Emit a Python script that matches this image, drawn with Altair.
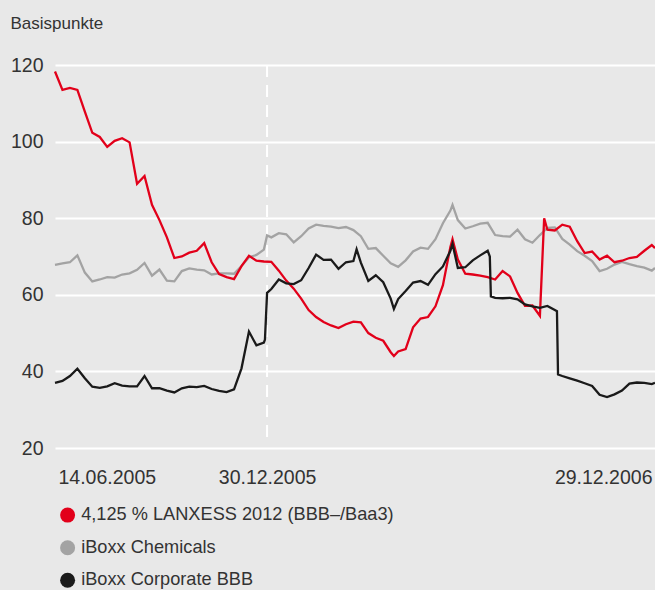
import altair as alt
import pandas as pd

# ---------------- data ----------------
series_names = ["4,125 % LANXESS 2012 (BBB–/Baa3)", "iBoxx Chemicals", "iBoxx Corporate BBB"]
series_colors = ["#e2001a", "#a3a3a3", "#1a1a1a"]

week_dates = [d.strftime("%Y-%m-%d") for d in pd.date_range("2005-06-14", periods=81, freq="7D")] + ["2006-12-29"]

lanxess = [118.3, 113.5, 114.0, 113.5, 107.8, 102.3, 101.2, 98.6, 100.2, 100.9,
           99.8, 89.0, 91.0, 83.5, 79.5, 75.0, 69.6, 70.0, 71.0, 71.5,
           73.5, 68.5, 65.4, 64.6, 64.1, 67.5, 70.2, 68.9, 68.7, 68.6,
           66.3, 63.7, 61.6, 59.0, 56.0, 54.2, 52.9, 52.0, 51.3, 52.3,
           53.0, 52.8, 50.0, 48.8, 48.0, 45.0, 45.2, 45.8, 51.5, 53.8,
           54.2, 57.0, 62.5, 72.5, 69.2, 65.5, 65.3, 65.0, 64.6, 64.0,
           66.2, 64.8, 60.5, 57.1, 57.2, 54.5, 77.0, 76.8, 78.3, 77.8,
           74.0, 70.9, 71.3, 69.2, 70.2, 68.5, 68.9, 69.6, 69.9, 71.5,
           73.0, 72.2]
lanxess_extra_dates = ["2006-04-28", "2006-06-22", "2006-09-16"]
lanxess_extra_vals = [44.0, 74.5, 80.0]

chemicals = [67.8, 68.2, 68.5, 70.3, 65.8, 63.5, 64.0, 64.6, 64.5, 65.3,
             65.6, 66.5, 68.3, 65.0, 66.6, 63.7, 63.5, 66.2, 66.9, 66.6,
             66.4, 65.3, 65.6, 65.6, 65.5, 67.5, 69.8, 70.4, 71.8, 75.0,
             76.1, 75.8, 73.7, 75.3, 77.3, 78.3, 78.0, 77.8, 77.4, 77.7,
             76.9, 75.3, 72.0, 72.2, 70.2, 68.2, 67.3, 69.0, 71.3, 72.3,
             72.0, 74.5, 78.7, 82.0, 79.5, 77.3, 77.9, 78.6, 78.8, 75.6,
             75.3, 75.2, 77.0, 74.5, 73.6, 75.6, 77.5, 77.6, 74.6, 73.1,
             71.4, 70.2, 68.8, 66.2, 66.8, 67.9, 68.6, 68.0, 67.5, 67.1,
             66.3, 67.0]
chemicals_extra_dates = ["2005-12-30", "2006-06-22"]
chemicals_extra_vals = [75.5, 83.5]

corporate = [37.0, 37.5, 38.8, 40.7, 38.2, 36.0, 35.7, 36.1, 36.9, 36.3,
             36.1, 36.1, 38.8, 35.6, 35.6, 35.0, 34.5, 35.6, 36.0, 35.9,
             36.2, 35.4, 34.9, 34.6, 35.3, 40.8, 50.4, 46.8, 47.5, 61.5,
             64.0, 63.0, 62.8, 63.8, 67.0, 70.5, 69.1, 69.2, 66.8, 68.5,
             68.8, 68.4, 63.6, 65.1, 63.3, 59.0, 58.9, 61.0, 63.2, 63.6,
             62.6, 65.4, 67.4, 71.5, 67.0, 67.2, 69.0, 70.3, 71.5, 59.2,
             59.1, 59.2, 58.8, 57.5, 57.0, 56.6, 57.1, 56.0, 38.8, 38.2,
             37.6, 36.9, 36.2, 33.9, 33.3, 34.0, 35.0, 36.8, 37.1, 37.0,
             36.7, 37.0]
corporate_extra_dates = ["2005-12-28", "2005-12-30", "2006-03-24", "2006-04-28",
                         "2006-06-22", "2006-07-27", "2006-07-28", "2006-09-28", "2006-09-29"]
corporate_extra_vals = [48.3, 60.5, 71.9, 56.3, 73.3, 70.0, 59.6, 55.7, 39.2]

marker_date = "2005-12-30"
marker_span = [120, 22]
x_tick_dates = ["2005-06-14", "2005-12-30", "2006-12-29"]
y_ticks = [20, 40, 60, 80, 100, 120]

# ---------------- table ----------------
rows = []
for name, vals, edates, evals in [
    (series_names[0], lanxess, lanxess_extra_dates, lanxess_extra_vals),
    (series_names[1], chemicals, chemicals_extra_dates, chemicals_extra_vals),
    (series_names[2], corporate, corporate_extra_dates, corporate_extra_vals),
]:
    for d, v in zip(week_dates + edates, vals + evals):
        rows.append({"date": d, "value": v, "series": name})
df = pd.DataFrame(rows).sort_values(["series", "date"])

marker_df = pd.DataFrame({"date": [marker_date], "value": [marker_span[0]], "bottom": [marker_span[1]]})
legend_df = pd.DataFrame({"label": series_names})


def dt(s):
    y, m, d = (int(p) for p in s.split("-"))
    return alt.DateTime(year=y, month=m, date=d, utc=True)


FONT = "Liberation Sans"
TXT = "#333333"

x_scale = alt.Scale(type="utc", domain=[dt(x_tick_dates[0]), dt(x_tick_dates[-1])], range=[2, 602], nice=False)
y_scale = alt.Scale(domain=[20, 120], nice=False, zero=False)

x_axis = alt.Axis(values=[dt(s) for s in x_tick_dates],
                  labelExpr="utcFormat(datum.value, '%d.%m.%Y')",
                  labelFlush=True, labelFlushOffset=-3, grid=False, domain=False, ticks=False,
                  labelPadding=20, labelFontSize=19.5, labelColor=TXT, labelFont=FONT,
                  title=None)
y_axis = alt.Axis(values=y_ticks, grid=True, gridColor="white", gridWidth=2,
                  domain=False, ticks=False, labelPadding=10, labelFontSize=19.5,
                  labelColor=TXT, labelFont=FONT,
                  title="Basispunkte", titleAngle=0, titleX=-43, titleY=-37,
                  titleAlign="left", titleBaseline="alphabetic", titleFontSize=17,
                  titleFontWeight="normal", titleColor=TXT, titleFont=FONT)

x_enc = alt.X("date:T", scale=x_scale, axis=x_axis)
y_enc = alt.Y("value:Q", scale=y_scale, axis=y_axis)

stroke_scale = alt.Scale(domain=series_names, range=series_colors)

rule = alt.Chart(marker_df).mark_rule(
    color="white", strokeWidth=2, strokeDash=[12, 8]
).encode(x=x_enc, y=y_enc, y2="bottom:Q")

layers = [rule]
for name in [series_names[1], series_names[0], series_names[2]]:
    layers.append(
        alt.Chart(df).transform_filter(alt.datum.series == name).mark_line(strokeWidth=2.3).encode(
            x=x_enc, y=y_enc,
            stroke=alt.Stroke("series:N", scale=stroke_scale, legend=None),
        )
    )

legend_layer = alt.Chart(legend_df).transform_filter("false").mark_circle().encode(
    fill=alt.Fill("label:N", scale=alt.Scale(domain=series_names, range=series_colors),
                  legend=alt.Legend(orient="none", legendX=5.5, legendY=441, direction="vertical",
                                    title=None, symbolType="circle", symbolSize=225,
                                    symbolStrokeWidth=0, symbolOpacity=1, labelFontSize=18.2,
                                    labelColor=TXT, labelFont=FONT, labelOffset=4.5,
                                    rowPadding=13.6, padding=0, labelLimit=500)),
)
layers.append(legend_layer)

chart = alt.layer(*layers).resolve_scale(fill="independent").properties(
    width=602, height=383,
    autosize=alt.AutoSizeParams(type="none"),
    padding={"left": 53, "top": 65, "right": 0, "bottom": 142},
).configure(background="#e8e8e8", font=FONT).configure_view(strokeWidth=0, fill="#e8e8e8")

chart.save("out.html", embed_options={"renderer": "svg", "actions": False})
